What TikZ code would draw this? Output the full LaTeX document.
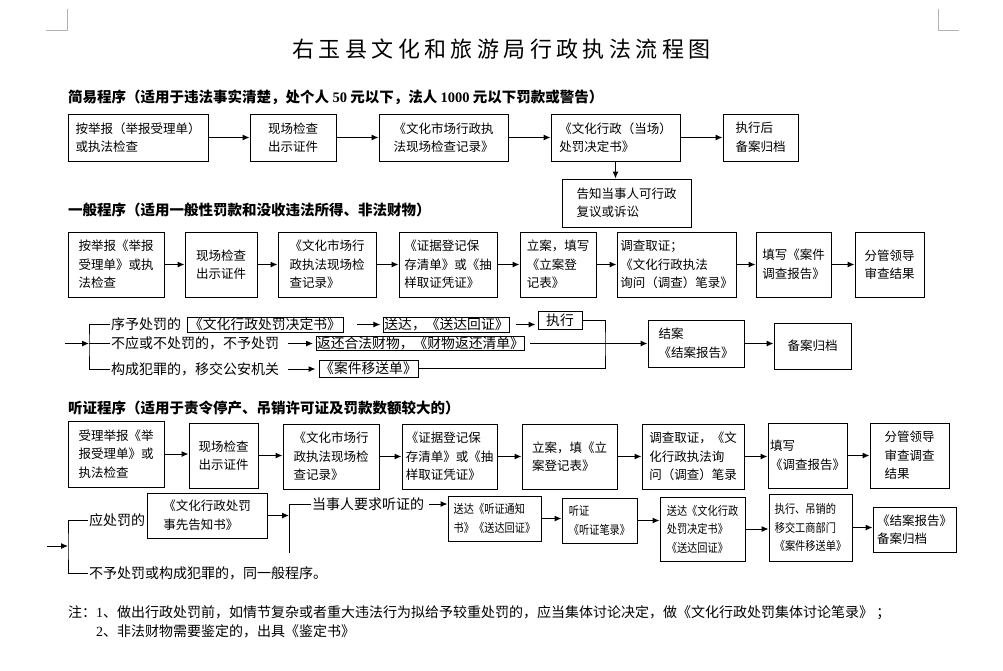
\documentclass[tikz,border=0pt]{standalone}
\usepackage{fontspec}
\setmainfont{Noto Sans CJK SC}
\newfontfamily\titlefont{Noto Sans CJK SC}[LetterSpace=20]
\newfontfamily\condfont{Noto Sans CJK SC}[FakeStretch=0.85]
\newfontfamily\numfont{Liberation Serif}
\usetikzlibrary{calc,arrows.meta}
\tikzset{block/.style={draw,line width=1pt,align=left,inner sep=2pt,font=\fontsize{12.5}{18.5}\selectfont},
         small/.style={font=\condfont\fontsize{12}{18.5}\selectfont},
         sz/.style 2 args={minimum width=#1,minimum height=#2},
         frame/.style={draw,line width=1pt,inner sep=0.5pt,font=\fontsize{13.8}{16}\selectfont},
         plain/.style={inner sep=1pt,anchor=west,font=\fontsize{14}{16}\selectfont},
         head/.style={plain,font=\fontsize{14.5}{17}\selectfont\bfseries},
         line/.style={line width=1pt}
}
\tikzstyle{arrow} = [line width=1pt,->,>={Latex[length=7pt,width=6pt]}]

\begin{document}
\begin{tikzpicture}[x=1pt,y=-1pt]
\fill[white] (0,0) rectangle (1003,670);
\useasboundingbox (0,0) rectangle (1003,670);

% page corners
\draw[gray!60] (46,30) -- (67.5,30) -- (67.5,9);
\draw[gray!60] (938,9) -- (938,30) -- (959,30);

\node[font=\titlefont\fontsize{22}{26}\selectfont] (title) at (501.5,49) {右玉县文化和旅游局行政执法流程图};

% simple procedure
\node[head] (head1) at (67,97) {简易程序（适用于违法事实清楚，处个人 {\numfont 50} 元以下，法人 {\numfont 1000} 元以下罚款或警告）};
\node[block,sz={140}{47}] (s1) at (138,137.5) {按举报（举报受理单）\\或执法检查};
\node[block,sz={86}{47}] (s2) at (293,137.5) {现场检查\\出示证件};
\node[block,sz={129}{47}] (s3) at (443.5,137.5) {《文化市场行政执\\法现场检查记录》};
\node[block,sz={129}{47}] (s4) at (615.5,137.5) {《文化行政（当场）\\处罚决定书》};
\node[block,sz={75}{47}] (s5) at (760.5,137.5) {执行后\\备案归档};
\node[block,sz={129}{48}] (s6) at (626.5,203) {告知当事人可行政\\复议或诉讼};
\draw[arrow] (s1.east) -- (s1.east -| s2.west);
\draw[arrow] (s2.east) -- (s2.east -| s3.west);
\draw[arrow] (s3.east) -- (s3.east -| s4.west);
\draw[arrow] (s4.east) -- (s4.east -| s5.west);
\draw[arrow] (s4.south) -- (s4.south |- s6.north);

% general procedure
\node[head] (head2) at (67,210) {一般程序（适用一般性罚款和没收违法所得、非法财物）};
\node[block,sz={96}{65}] (g1) at (116,264.5) {按举报《举报\\受理单》或执\\法检查};
\node[block,sz={72}{65}] (g2) at (221,264.5) {现场检查\\出示证件};
\node[block,sz={98}{65}] (g3) at (327,264.5) {《文化市场行\\政执法现场检\\查记录》};
\node[block,sz={98}{65}] (g4) at (448,264.5) {《证据登记保\\存清单》或《抽\\样取证凭证》};
\node[block,sz={76}{65}] (g5) at (558,264.5) {立案，填写\\《立案登\\记表》};
\node[block,sz={119}{65}] (g6) at (676.5,264.5) {调查取证；\\《文化行政执法\\询问（调查）笔录》};
\node[block,sz={75}{65}] (g7) at (793.5,264.5) {填写《案件\\调查报告》};
\node[block,sz={69}{65}] (g8) at (889.5,264.5) {分管领导\\审查结果};
\draw[arrow] (g1.east) -- (g1.east -| g2.west);
\draw[arrow] (g2.east) -- (g2.east -| g3.west);
\draw[arrow] (g3.east) -- (g3.east -| g4.west);
\draw[arrow] (g4.east) -- (g4.east -| g5.west);
\draw[arrow] (g5.east) -- (g5.east -| g6.west);
\draw[arrow] (g6.east) -- (g6.east -| g7.west);
\draw[arrow] (g7.east) -- (g7.east -| g8.west);

\coordinate (in1) at (65,343.5);
\coordinate (fk1) at (89,343.5);
\coordinate (loop) at (605,343.5);
\node[plain] (t1) at (110,324.5) {序予处罚的};
\node[plain] (t2) at (110,343.5) {不应或不处罚的，不予处罚};
\node[plain] (t3) at (110,369) {构成犯罪的，移交公安机关};
\node[frame,sz={156}{15}] (b1) at (265,324.5) {《文化行政处罚决定书》};
\node[frame,sz={119}{15}] (b2) at (446.5,324.5) {送达，《送达回证》};
\node[frame,sz={44}{18}] (b3) at (560,320) {执行};
\node[frame,sz={205}{14}] (b4) at (420.5,343.5) {返还合法财物，《财物返还清单》};
\node[frame,sz={99}{17}] (b5) at (368.5,368.5) {《案件移送单》};
\node[block,sz={96}{47}] (j1) at (696,343.5) {结案\\《结案报告》};
\node[block,sz={77}{46}] (j2) at (812.5,346) {备案归档};
\draw[arrow] (in1) -- (fk1);
\draw[line] (t1.west) -| (fk1) |- (t3.west);
\draw[line] (fk1) -- (t2.west);
\draw[arrow,shorten <=13pt,shorten >=3pt] (b1.east) -- (b1.east -| b2.west);
\draw[arrow,shorten <=6pt,shorten >=2pt] (b2.east) -- (b2.east -| b3.west);
\draw[arrow,shorten <=8pt,shorten >=3pt] (t2.east) -- (t2.east -| b4.west);
\draw[arrow,shorten <=8pt,shorten >=3pt] (t3.east) -- (t3.east -| b5.west);
\draw[line] (b3.east) -| (loop) |- (b5.east);
\draw[arrow,shorten <=5pt] (b4.east) -- (j1.west);
\draw[arrow] (j1.east) -- (j1.east -| j2.west);

% hearing procedure
\node[head] (head3) at (67,408) {听证程序（适用于责令停产、吊销许可证及罚款数额较大的）};
\node[block,sz={96}{66}] (h1) at (116,454) {受理举报《举\\报受理单》或\\执法检查};
\node[block,sz={69}{65}] (h2) at (223.5,455.5) {现场检查\\出示证件};
\node[block,sz={96}{65}] (h3) at (331,456.5) {《文化市场行\\政执法现场检\\查记录》};
\node[block,sz={95}{65}] (h4) at (449.5,456.5) {《证据登记保\\存清单》或《抽\\样取证凭证》};
\node[block,sz={95}{65}] (h5) at (569.5,456.5) {立案，填《立\\案登记表》};
\node[block,sz={102}{65}] (h6) at (693,456.5) {调查取证，《文\\化行政执法询\\问（调查）笔录};
\node[block,sz={79}{65}] (h7) at (807.5,455.5) {填写\\《调查报告》};
\node[block,sz={79}{65}] (h8) at (909.5,455.5) {分管领导\\审查调查\\结果};
\draw[arrow] (h1.east) -- (h1.east -| h2.west);
\draw[arrow] (h2.east) -- (h2.east -| h3.west);
\draw[arrow] (h3.east) -- (h3.east -| h4.west);
\draw[arrow] (h4.east) -- (h4.east -| h5.west);
\draw[arrow] (h5.east) -- (h5.east -| h6.west);
\draw[arrow] (h6.east) -- (h6.east -| h7.west);
\draw[arrow] (h7.east) -- (h7.east -| h8.west);

\coordinate (in2) at (47,546);
\coordinate (fk2) at (68,546);
\coordinate (fk3) at (289,553);
\node[plain] (t4) at (88,520) {应处罚的};
\node[plain] (t5) at (88,573) {不予处罚或构成犯罪的，同一般程序。};
\node[plain] (t6) at (311,504) {当事人要求听证的};
\node[block,sz={120}{45}] (p1) at (207,515.5) {《文化行政处罚\\事先告知书》};
\node[block,small,sz={93}{45}] (p2) at (494.5,518.5) {送达《听证通知\\书》《送达回证》};
\node[block,small,sz={75}{45}] (p3) at (599.5,520.5) {听证\\《听证笔录》};
\node[block,small,sz={85}{64}] (p4) at (702.5,529) {送达《文化行政\\处罚决定书》\\《送达回证》};
\node[block,small,sz={83}{67}] (p5) at (810.5,527.5) {执行、吊销的\\移交工商部门\\《案件移送单》};
\node[block,sz={83}{45}] (p6) at (914.5,529.5) {《结案报告》\\备案归档};
\draw[arrow] (in2) -- (fk2);
\draw[line] (t4.west) -| (fk2) |- (t5.west);
\draw[arrow] (p1.east) -- (p1.east -| fk3);
\draw[line] (t6.west) -| (fk3);
\draw[arrow,shorten <=4pt] (t6.east) -- (t6.east -| p2.west);
\draw[arrow] (p2.east) -- (p2.east -| p3.west);
\draw[arrow] (p3.east) -- (p3.east -| p4.west);
\draw[arrow] (p4.east) -- (p4.east -| p5.west);
\draw[arrow] (p5.east) -- (p5.east -| p6.west);

% notes
\node[plain] (note1) at (67,613) {注：{\numfont 1}、做出行政处罚前，如情节复杂或者重大违法行为拟给予较重处罚的，应当集体讨论决定，做《文化行政处罚集体讨论笔录》 ；};
\node[plain] (note2) at (95,631) {{\numfont 2}、非法财物需要鉴定的，出具《鉴定书》};

\end{tikzpicture}
\end{document}
